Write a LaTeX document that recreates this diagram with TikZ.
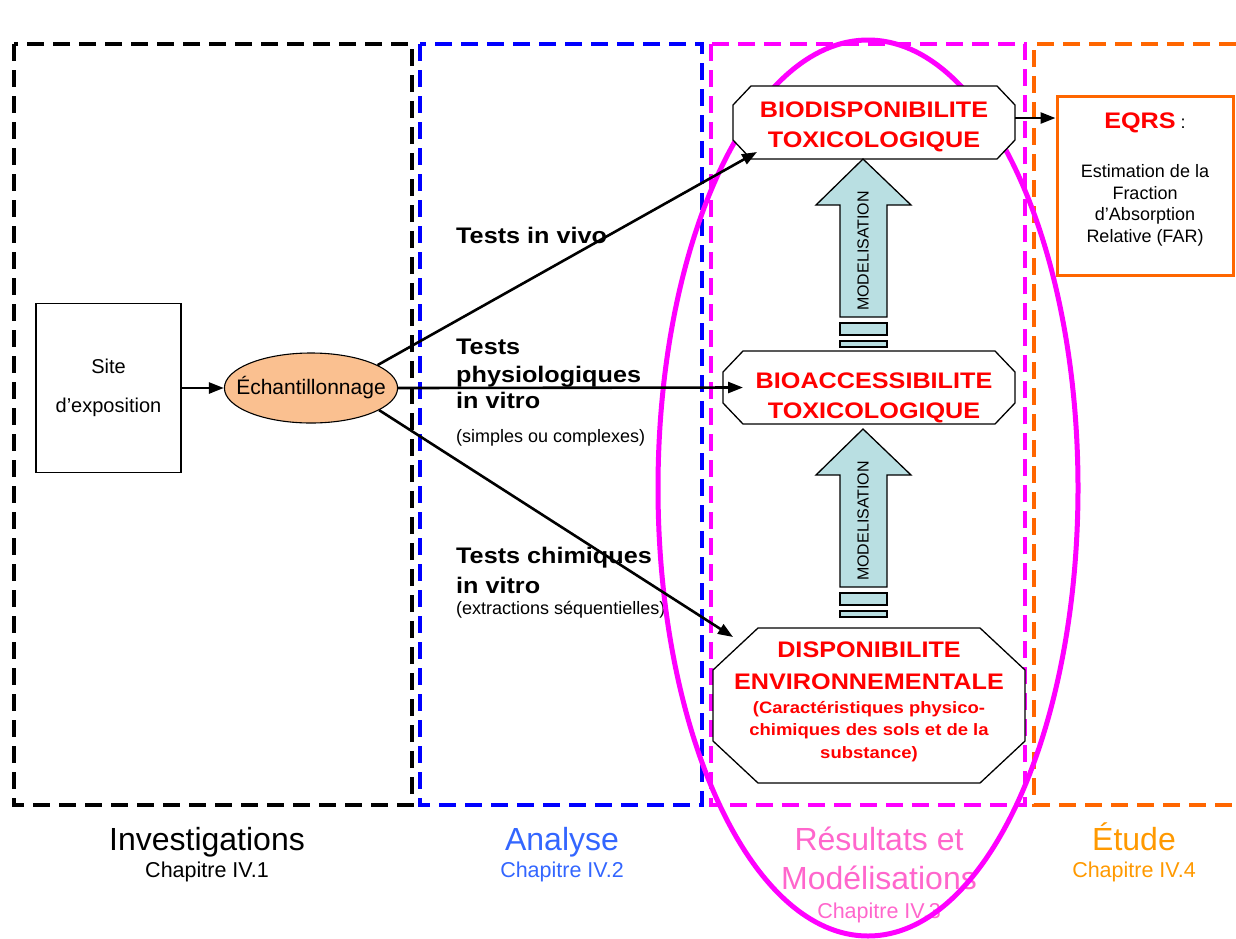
\documentclass[tikz,border=0pt]{standalone}
\usepackage{fontspec}
\setmainfont{Liberation Sans}
\newfontfamily\widesans{Liberation Sans}[FakeStretch=1.12]
\usetikzlibrary{arrows.meta,shapes.geometric}

\definecolor{framemag}{HTML}{FF00FF}
\definecolor{frameblue}{HTML}{0000FF}
\definecolor{frameorange}{HTML}{FF6600}
\definecolor{labblue}{HTML}{3366FF}
\definecolor{labpink}{HTML}{FF66CC}
\definecolor{laborange}{HTML}{FF9900}
\definecolor{peach}{HTML}{FAC090}
\definecolor{paleblue}{HTML}{B9DFE2}
\definecolor{titlered}{HTML}{FF0000}

% chamfered outline around a named (invisible) box node
\newcommand\octagon[3]{%
  \draw[octline] ([xshift=#2pt]#1.north west) -- ([xshift=-#2pt]#1.north east)
    -- ([yshift=-#3pt]#1.north east) -- ([yshift=#3pt]#1.south east)
    -- ([xshift=-#2pt]#1.south east) -- ([xshift=#2pt]#1.south west)
    -- ([yshift=#3pt]#1.south west) -- ([yshift=-#3pt]#1.north west) -- cycle;}

\tikzset{
  frame/.style={line width=4pt, dash pattern=on 17pt off 9pt},
  arr/.style={line width=2.6pt, -{Triangle[length=15pt,width=11pt]}},
  octline/.style={draw, fill=white, line width=1.3pt},
  boxarea/.style={inner sep=0pt, outer sep=0pt},
  redline/.style={anchor=base, inner sep=0pt, text=titlered,
    font=\widesans\bfseries\fontsize{22.5}{27}\selectfont},
  redsmall/.style={anchor=base, inner sep=0pt, text=titlered,
    font=\widesans\bfseries\fontsize{16.5}{20}\selectfont},
  testlabel/.style={anchor=base west, inner sep=0pt,
    font=\widesans\bfseries\fontsize{22.5}{27}\selectfont},
  testnote/.style={anchor=base west, inner sep=0pt,
    font=\fontsize{18}{22}\selectfont},
  eqrsline/.style={anchor=base, inner sep=0pt, font=\fontsize{18}{22}\selectfont},
  phase/.style={anchor=base, inner sep=0pt, font=\fontsize{32}{38}\selectfont},
  chapter/.style={anchor=base, inner sep=0pt, font=\fontsize{21.5}{26}\selectfont},
  modelarrow/.pic={
    \draw[fill=paleblue, line width=1.3pt] (0,0) -- (48,46) -- (24,46) -- (24,158)
      -- (-23,158) -- (-23,46) -- (-47,46) -- cycle;
    \node[rotate=90, inner sep=0pt, font=\fontsize{16}{16}\selectfont] (-text) at (0,92) {MODELISATION};
    \draw[fill=paleblue, line width=1.3pt] (-23,164) rectangle (24,176);
    \draw[fill=paleblue, line width=1.3pt] (-23,182) rectangle (24,188);
  }
}

\begin{document}
\begin{tikzpicture}[x=1pt, y=-1pt]
\useasboundingbox (0,0) rectangle (1236,938);

% phase frames
\draw[frame, black] (14,44) rectangle (412,805);
\draw[frame, frameblue] (420,44) rectangle (702,805);
\draw[frame, framemag] (711,44) rectangle (1025,805);
\draw[frame, frameorange] (1236,44) -- (1034,44) -- (1034,805) -- (1236,805);

% phase captions
\node[phase] (capinv) at (207,850) {Investigations};
\node[chapter] (chinv) at (207,877) {Chapitre IV.1};
\node[phase, text=labblue] (capana) at (562,850) {Analyse};
\node[chapter, text=labblue] (chana) at (562,877) {Chapitre IV.2};
\node[phase, text=labpink] (capres1) at (879,850) {Résultats et};
\node[phase, text=labpink] (capres2) at (879,889) {Modélisations};
\node[chapter, text=labpink] (chres) at (879,918) {Chapitre IV.3};
\node[phase, text=laborange] (capetu) at (1134,850) {Étude};
\node[chapter, text=laborange] (chetu) at (1134,877) {Chapitre IV.4};

% test labels
\node[testlabel] (tviv) at (456,243) {Tests in vivo};
\node[testlabel] (tphy1) at (456,354) {Tests};
\node[testlabel] (tphy2) at (456,382) {physiologiques};
\node[testlabel] (tphy3) at (456,408) {in vitro};
\node[testnote] (tphy4) at (456,442) {(simples ou complexes)};
\node[testlabel] (tchi1) at (456,563) {Tests chimiques};
\node[testlabel] (tchi2) at (456,593) {in vitro};
\node[testnote] (tchi3) at (456,614) {(extractions séquentielles)};

% results ellipse
\draw[framemag, line width=5pt] (868,488) ellipse [x radius=210, y radius=448];

% sampling chain
\node[draw, line width=1.1pt, minimum width=145pt, minimum height=169pt, align=center,
  font=\fontsize{20}{24}\selectfont] (site) at (108.5,388) {Site\\[15pt]d’exposition};
\node[ellipse, draw, line width=1.1pt, fill=peach, minimum height=70pt,
  inner xsep=-13.5pt, inner ysep=0pt, font=\fontsize{21}{25}\selectfont] (ech) at (311,388) {Échantillonnage};

% result boxes
\node[boxarea, minimum width=282pt, minimum height=73pt] (bio) at (874,122.5) {};
\octagon{bio}{18}{19}
\node[redline] (bio1) at (874,117) {BIODISPONIBILITE};
\node[redline] (bio2) at (874,147) {TOXICOLOGIQUE};

\node[boxarea, minimum width=292pt, minimum height=73pt] (bioacc) at (869,387.5) {};
\octagon{bioacc}{20}{21}
\node[redline] (acc1) at (874,388) {BIOACCESSIBILITE};
\node[redline] (acc2) at (874,418) {TOXICOLOGIQUE};

\node[boxarea, minimum width=312pt, minimum height=155pt] (dispo) at (869,705.5) {};
\octagon{dispo}{45}{42}
\node[redline] (dis1) at (869,657) {DISPONIBILITE};
\node[redline] (dis2) at (869,689) {ENVIRONNEMENTALE};
\node[redsmall] (dis3) at (869,713) {(Caractéristiques physico-};
\node[redsmall] (dis4) at (869,735) {chimiques des sols et de la};
\node[redsmall] (dis5) at (869,758) {substance)};

% modelling arrows
\pic (modup) at (863,159) {modelarrow};
\pic (modlow) at (863,429) {modelarrow};

% risk assessment box
\node[draw=frameorange, line width=3pt, minimum width=176pt, minimum height=179pt] (eqrs) at (1145,185.5) {};
\node[eqrsline] (eq0) at (1145,128)
  {{\widesans\bfseries\fontsize{22.5}{27}\selectfont\color{titlered}EQRS} :};
\node[eqrsline] (eq1) at (1145,177) {Estimation de la};
\node[eqrsline] (eq2) at (1145,199) {Fraction};
\node[eqrsline] (eq3) at (1145,220) {d’Absorption};
\node[eqrsline] (eq4) at (1145,242) {Relative (FAR)};

% connectors
\draw[arr] (site.east) -- (ech.west);
\draw[arr] (ech.19) -- ([xshift=24pt,yshift=7pt]bio.south west);
\draw[arr] (ech.east) -- ([xshift=20pt]bioacc.west);
\draw[arr] (ech.-18) -- ([xshift=20pt,yshift=-9pt]dispo.north west);
\draw[arr] ([yshift=4.5pt]bio.east) -- ([yshift=4.5pt]bio.east -| eqrs.west);
\end{tikzpicture}
\end{document}
